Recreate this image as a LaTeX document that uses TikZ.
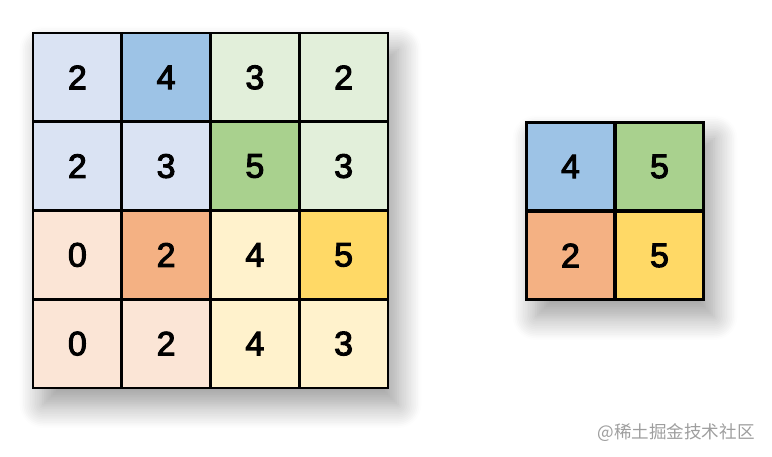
\documentclass[tikz,border=0pt]{standalone}
\usepackage{fontspec}
\newfontfamily\digitfont{Liberation Sans}[FakeBold=3]
\newfontfamily\cjkfont{Noto Sans CJK SC}
\usepackage{xcolor}
\usetikzlibrary{shadows.blur}

\definecolor{bluelt}{HTML}{DAE3F3}
\definecolor{bluemd}{HTML}{9DC3E6}
\definecolor{greenlt}{HTML}{E2EFDA}
\definecolor{greenmd}{HTML}{A9D18E}
\definecolor{orangelt}{HTML}{FBE5D6}
\definecolor{orangemd}{HTML}{F4B183}
\definecolor{yellowlt}{HTML}{FFF2CC}
\definecolor{yellowmd}{HTML}{FFD966}

\begin{document}
\begin{tikzpicture}[
  x=0.03cm,y=-0.03cm,
  font=\digitfont\fontsize{29}{29}\selectfont,
  cell/.style={rectangle,draw=black,line width=2.5pt,minimum size=2.6625cm,inner sep=0pt},
  cB/.style={cell,fill=bluelt},
  cBB/.style={cell,fill=bluemd},
  cG/.style={cell,fill=greenlt},
  cGG/.style={cell,fill=greenmd},
  cO/.style={cell,fill=orangelt},
  cOO/.style={cell,fill=orangemd},
  cY/.style={cell,fill=yellowlt},
  cYY/.style={cell,fill=yellowmd},
  frame/.style={fill=white,blur shadow={shadow xshift=0.3cm,shadow yshift=-0.5cm,shadow blur radius=0.7cm,shadow blur steps=14,shadow opacity=40}},
  wmark/.style={font=\cjkfont\fontsize{15}{15}\selectfont,text=black!38}
]
\useasboundingbox (0,0) rectangle (772,457);

%%%%%%%%%%%%%%%%%%%%%%%%%%%%%%%%%%%%%%%%%%%%%%%%%%%%
% Input 4x4
%%%%%%%%%%%%%%%%%%%%%%%%%%%%%%%%%%%%%%%%%%%%%%%%%%%%
\path[frame] (33,33) rectangle (388,388);

\node[cB]  (A11) at (77.4,77.4)  {2};
\node[cBB] (A12) at (166.1,77.4) {4};
\node[cG]  (A13) at (254.9,77.4) {3};
\node[cG]  (A14) at (343.6,77.4) {2};

\node[cB]  (A21) at (77.4,166.1)  {2};
\node[cB]  (A22) at (166.1,166.1) {3};
\node[cGG] (A23) at (254.9,166.1) {5};
\node[cG]  (A24) at (343.6,166.1) {3};

\node[cO]  (A31) at (77.4,254.9)  {0};
\node[cOO] (A32) at (166.1,254.9) {2};
\node[cY]  (A33) at (254.9,254.9) {4};
\node[cYY] (A34) at (343.6,254.9) {5};

\node[cO]  (A41) at (77.4,343.6)  {0};
\node[cO]  (A42) at (166.1,343.6) {2};
\node[cY]  (A43) at (254.9,343.6) {4};
\node[cY]  (A44) at (343.6,343.6) {3};

%%%%%%%%%%%%%%%%%%%%%%%%%%%%%%%%%%%%%%%%%%%%%%%%%%%%
% Output 2x2 (max pooling)
%%%%%%%%%%%%%%%%%%%%%%%%%%%%%%%%%%%%%%%%%%%%%%%%%%%%
\path[frame] (526,122) rectangle (704,300);

\node[cBB] (B11) at (570.5,166.5) {4};
\node[cGG] (B12) at (659.5,166.5) {5};
\node[cOO] (B21) at (570.5,255.5) {2};
\node[cYY] (B22) at (659.5,255.5) {5};

\node[wmark] (wm) at (676,433) {@稀土掘金技术社区};

\end{tikzpicture}
\end{document}
